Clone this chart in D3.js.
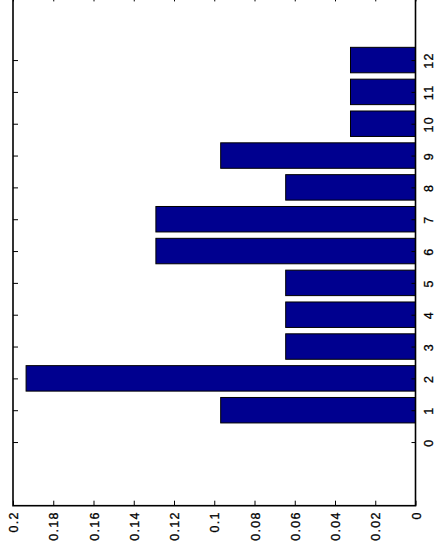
<!DOCTYPE html>
<html>
<head>
<meta charset="utf-8">
<script src="https://cdn.jsdelivr.net/npm/d3@7"></script>
<style>
  body { margin: 0; background: #fff; }
</style>
</head>
<body>
<div id="chart"></div>
<script>
const width = 438;
const height = 557;

// data: frequency per class (bars are horizontal, axis reversed)
const categories = [1, 2, 3, 4, 5, 6, 7, 8, 9, 10, 11, 12];
const values = [0.0968, 0.1935, 0.0645, 0.0645, 0.0645, 0.129, 0.129, 0.0645, 0.0968, 0.0323, 0.0323, 0.0323];
const categoryTicks = [0, 1, 2, 3, 4, 5, 6, 7, 8, 9, 10, 11, 12];
const valueTicks = [0, 0.02, 0.04, 0.06, 0.08, 0.1, 0.12, 0.14, 0.16, 0.18, 0.2];

const plot = { left: 13, right: 415.5, top: -3.6, bottom: 505.7 };
const barWidth = 0.8;

const svg = d3.select('#chart')
    .append('svg')
    .attr('width', width)
    .attr('height', height);

const x = d3.scaleLinear()
    .domain([0, 0.2])
    .range([plot.right, plot.left]);

const y = d3.scaleLinear()
    .domain([-2, 14])
    .range([plot.bottom, plot.top]);

const fmt = d => String(+d.toFixed(2));

// bars
svg.append('g')
    .selectAll('rect')
    .data(categories)
    .enter()
    .append('rect')
    .attr('x', (d, i) => x(values[i]))
    .attr('y', d => y(d + barWidth / 2))
    .attr('width', (d, i) => x(0) - x(values[i]))
    .attr('height', d => y(d - barWidth / 2) - y(d + barWidth / 2))
    .style('fill', '#00008F')
    .style('stroke', '#000')
    .style('stroke-width', 1);

// bottom value axis, ticks pointing in
const bottomAxis = svg.append('g')
    .attr('transform', `translate(0,${plot.bottom})`)
    .call(d3.axisBottom(x).tickValues(valueTicks).tickSize(-5).tickPadding(0).tickFormat(fmt));

bottomAxis.selectAll('text')
    .attr('transform', 'rotate(-90)')
    .attr('x', -5.5)
    .attr('y', 4.5)
    .attr('dy', null)
    .style('text-anchor', 'end');

// top mirror ticks
svg.append('g')
    .attr('transform', `translate(0,${plot.top})`)
    .call(d3.axisTop(x).tickValues(valueTicks).tickSize(-5).tickFormat(''));

// right category axis with labels
const rightAxis = svg.append('g')
    .attr('transform', `translate(${plot.right},0)`)
    .call(d3.axisRight(y).tickValues(categoryTicks).tickSize(-4).tickPadding(0).tickFormat(d3.format('d')));

rightAxis.selectAll('text')
    .attr('transform', 'rotate(-90)')
    .attr('x', 0)
    .attr('y', 17.5)
    .attr('dy', null)
    .style('text-anchor', 'middle');

// left mirror ticks
svg.append('g')
    .attr('transform', `translate(${plot.left},0)`)
    .call(d3.axisLeft(y).tickValues(categoryTicks).tickSize(-5).tickFormat(''));

svg.selectAll('.domain').remove();
svg.selectAll('.tick line').style('stroke', '#000').style('stroke-width', 1);
svg.selectAll('.tick text')
    .style('font-family', '"Liberation Sans", Arial, sans-serif')
    .style('font-size', '12.5px')
    .style('letter-spacing', '1.3px')
    .style('fill', '#000')
    .style('stroke', '#000')
    .style('stroke-width', 0.3);

// box
svg.append('rect')
    .attr('x', plot.left)
    .attr('y', plot.top)
    .attr('width', plot.right - plot.left)
    .attr('height', plot.bottom - plot.top)
    .style('fill', 'none')
    .style('stroke', '#000')
    .style('stroke-width', 1.6);
</script>
</body>
</html>
